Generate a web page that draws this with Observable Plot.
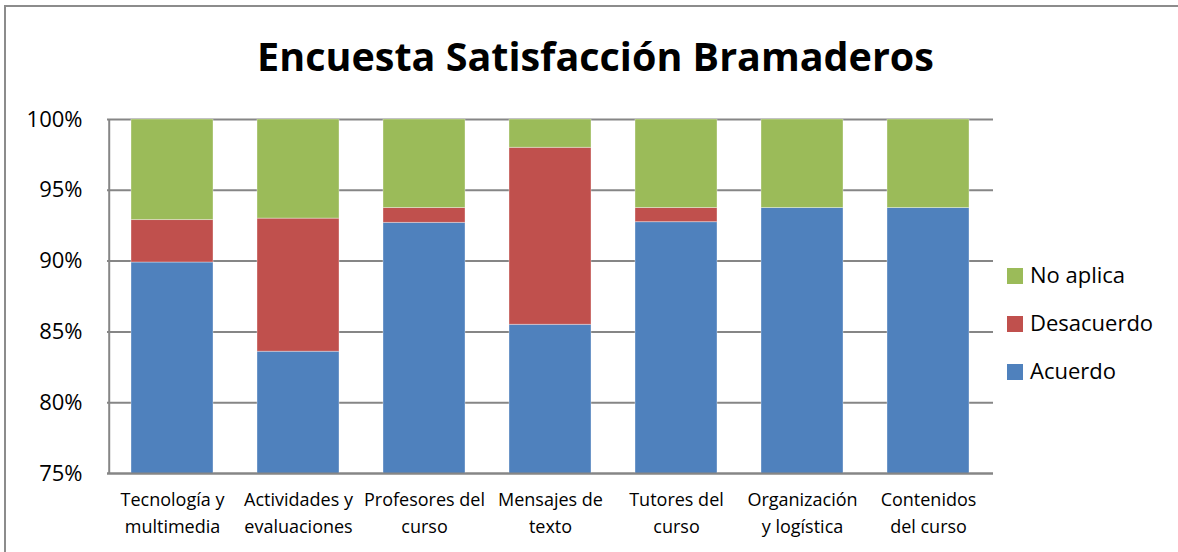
<!DOCTYPE html>
<html>
<head>
<meta charset="utf-8">
<script src="https://cdn.jsdelivr.net/npm/d3@7"></script>
<script src="https://cdn.jsdelivr.net/npm/@observablehq/plot@0.6"></script>
<style>
  html, body { margin: 0; padding: 0; background: #fff; }
  #wrap { position: relative; width: 1178px; height: 552px; overflow: hidden; font-family: "Open Sans", Lato, sans-serif; }
  #frame { position: absolute; left: 4px; top: 5px; width: 1200px; height: 600px; border-left: 2px solid #8c8c8c; border-top: 2px solid #8c8c8c; pointer-events: none; }
  #legend { position: absolute; left: 1007px; top: 259px; font-size: 22px; color: #000; }
  #legend .item { position: absolute; left: 0; white-space: nowrap; height: 30px; line-height: 30px; }
  #legend .sw { display: inline-block; width: 16px; height: 16px; margin-right: 7px; vertical-align: -1px; }
  svg { position: absolute; left: 0; top: 0; }
</style>
</head>
<body>
<div id="wrap"><div id="frame"></div><div id="legend"></div></div>
<script>
const title = "Encuesta Satisfacción Bramaderos";
const categories = [
  "Tecnología y\nmultimedia",
  "Actividades y\nevaluaciones",
  "Profesores del\ncurso",
  "Mensajes de\ntexto",
  "Tutores del\ncurso",
  "Organización\ny logística",
  "Contenidos\ndel curso"
];
const series = ["Acuerdo", "Desacuerdo", "No aplica"];
const colors = ["#4F81BD", "#C0504D", "#9BBB59"];
const acuerdo    = [89.9, 83.6, 92.7, 85.5, 92.75, 93.75, 93.75];
const desacuerdo = [3.0,  9.4,  1.05, 12.5, 1.0,   0.0,   0.0];
const noAplica   = [7.1,  7.0,  6.25, 2.0,  6.25,  6.25,  6.25];
const yTicks = [0.75, 0.80, 0.85, 0.90, 0.95, 1.00];

const values = [acuerdo, desacuerdo, noAplica];
const data = [];
series.forEach((s, i) => categories.forEach((c, j) => data.push({cat: c, serie: s, order: i, value: values[i][j] / 100})));

const W = 1178, ML = 107, MR = 185;
const step = (W - ML - MR) / categories.length;

const chart = Plot.plot({
  width: W,
  height: 552,
  marginLeft: ML,
  marginRight: MR,
  marginTop: 119,
  marginBottom: 79,
  style: {fontFamily: "'Open Sans', Lato, sans-serif", background: "transparent", color: "#000"},
  x: {domain: categories, paddingInner: 0.35, paddingOuter: 0.175, label: null},
  y: {domain: [0.75, 1], label: null},
  color: {domain: series, range: colors},
  marks: [
    Plot.gridY(yTicks, {stroke: "#868686", strokeOpacity: 1, strokeWidth: 2}),
    Plot.barY(data, Plot.stackY({
      x: "cat", y: "value", fill: "serie", order: "order", clip: true,
      stroke: "#ffffff", strokeOpacity: 0.35, strokeWidth: 1
    })),
    Plot.ruleX([categories[0]], {stroke: "#868686", strokeWidth: 2, y1: 0.75, y2: 1, dx: -step / 2}),
    Plot.ruleY([0.75], {stroke: "#868686", strokeWidth: 2}),
    Plot.axisY({ticks: yTicks, tickFormat: d => Math.round(d * 100) + "%", tickSize: 0, tickPadding: 25, fontSize: 22, label: null}),
    Plot.axisX({tickSize: 0, tickPadding: 13, fontSize: 18, lineHeight: 1.5, label: null}),
    Plot.text([title], {frameAnchor: "top", dx: 45, dy: -77, fontSize: 39.5, fontWeight: "bold", lineAnchor: "top", fill: "#000"})
  ]
});
document.getElementById("wrap").appendChild(chart);

const legend = document.getElementById("legend");
const legOrder = [2, 1, 0];
legOrder.forEach((i, k) => {
  const d = document.createElement("div");
  d.className = "item";
  d.style.top = (k * 48) + "px";
  d.innerHTML = `<span class="sw" style="background:${colors[i]}"></span>${series[i]}`;
  legend.appendChild(d);
});
</script>
</body>
</html>
